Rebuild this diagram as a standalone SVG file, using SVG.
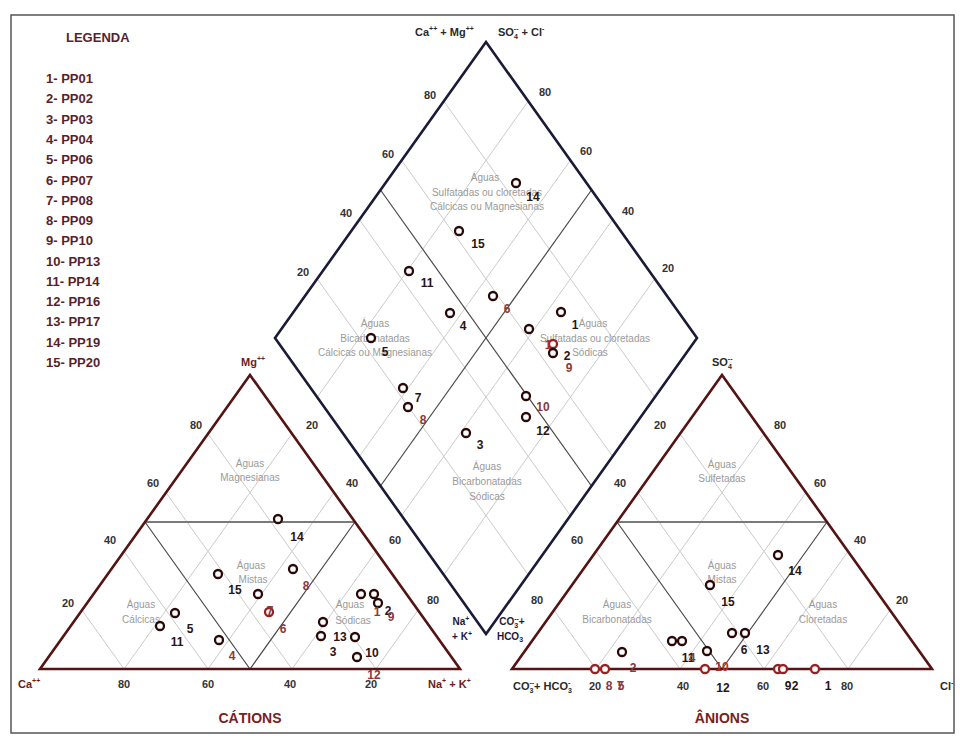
<svg xmlns="http://www.w3.org/2000/svg" width="960" height="738" viewBox="0 0 960 738">
<style>
text{font-family:"Liberation Sans",Arial,sans-serif}
.leg{font-size:13px;font-weight:bold;fill:#5a1f2a}
.ax{font-size:11px;font-weight:bold;fill:#2a2a2a}
.axm{font-size:11px;font-weight:bold;fill:#6a1c1c}
.sup{font-size:7px}
.ttl{font-size:14px;font-weight:bold;fill:#7a2020;text-anchor:middle}
.reg{font-size:10px;fill:#9a9a9a;text-anchor:middle}
.grid{stroke:#cbcbcb;stroke-width:1;fill:none}
.div{stroke:#4a4a4a;stroke-width:1.2;fill:none}
.mid{stroke:#7a7a7a;stroke-width:2;fill:none}
.tri{stroke:#541414;stroke-width:2.6;fill:none;stroke-linejoin:miter}
.dia{stroke:#1b1b38;stroke-width:2.6;fill:none}
.pt{fill:#fff;stroke:#2a0808;stroke-width:2.3}
.ptr{fill:#fff;stroke:#9a2020;stroke-width:2.3}
.lb{font-size:12px;font-weight:bold;fill:#2a1414;text-anchor:middle}
.lbm{font-size:12px;font-weight:bold;fill:#8a3a3a;text-anchor:middle}
.lbr{font-size:12px;font-weight:bold;fill:#b03030;text-anchor:middle}
.tk{font-size:11px;font-weight:bold;fill:#333;text-anchor:middle}
.sm{font-size:10px;font-weight:bold;fill:#1b1b38;text-anchor:middle}
</style>
<rect x="0" y="0" width="960" height="738" fill="#fff"/>
<rect id="frame" x="11" y="15" width="943" height="718" fill="none" stroke="#555" stroke-width="1.5"/>

<g id="legend">
<text class="leg" x="66" y="42">LEGENDA</text>
<text class="leg" x="46" y="83">1- PP01</text>
<text class="leg" x="46" y="103">2- PP02</text>
<text class="leg" x="46" y="124">3- PP03</text>
<text class="leg" x="46" y="144">4- PP04</text>
<text class="leg" x="46" y="164">5- PP06</text>
<text class="leg" x="46" y="185">6- PP07</text>
<text class="leg" x="46" y="205">7- PP08</text>
<text class="leg" x="46" y="225">8- PP09</text>
<text class="leg" x="46" y="245">9- PP10</text>
<text class="leg" x="46" y="266">10- PP13</text>
<text class="leg" x="46" y="286">11- PP14</text>
<text class="leg" x="46" y="306">12- PP16</text>
<text class="leg" x="46" y="326">13- PP17</text>
<text class="leg" x="46" y="347">14- PP19</text>
<text class="leg" x="46" y="367">15- PP20</text>
</g>

<g id="diamond">
<g class="grid">
<line x1="443.8" y1="101.2" x2="654.8" y2="397.2"/>
<line x1="401.6" y1="160.4" x2="612.6" y2="456.4"/>
<line x1="359.4" y1="219.6" x2="570.4" y2="515.6"/>
<line x1="317.2" y1="278.8" x2="528.2" y2="574.8"/>
<line x1="528.2" y1="101.2" x2="317.2" y2="397.2"/>
<line x1="570.4" y1="160.4" x2="359.4" y2="456.4"/>
<line x1="612.6" y1="219.6" x2="401.6" y2="515.6"/>
<line x1="654.8" y1="278.8" x2="443.8" y2="574.8"/>
</g>
<line class="div" x1="380.5" y1="190" x2="591.5" y2="486"/>
<line class="div" x1="591.5" y1="190" x2="380.5" y2="486"/>
<polygon class="dia" points="486,42 697,338 486,634 275,338"/>
<text class="reg" x="485" y="181">Águas</text>
<text class="reg" x="487" y="196">Sulfatadas ou cloretadas</text>
<text class="reg" x="487" y="210">Cálcicas ou Magnesianas</text>
<text class="reg" x="375" y="327">Águas</text>
<text class="reg" x="375" y="342">Bicarbonatadas</text>
<text class="reg" x="375" y="356">Cálcicas ou Magnesianas</text>
<text class="reg" x="593" y="327">Águas</text>
<text class="reg" x="595" y="342">Sulfatadas ou cloretadas</text>
<text class="reg" x="590" y="356">Sódicas</text>
<text class="reg" x="487" y="470">Águas</text>
<text class="reg" x="487" y="485">Bicarbonatadas</text>
<text class="reg" x="487" y="500">Sódicas</text>
<text class="tk" x="430" y="99">80</text>
<text class="tk" x="388" y="158">60</text>
<text class="tk" x="346" y="217">40</text>
<text class="tk" x="303" y="276">20</text>
<text class="tk" x="545" y="96">80</text>
<text class="tk" x="586" y="155">60</text>
<text class="tk" x="628" y="215">40</text>
<text class="tk" x="668" y="272">20</text>
<text class="ax" x="415" y="36">Ca<tspan class="sup" dy="-5">++</tspan><tspan dy="5"> + Mg</tspan><tspan class="sup" dy="-5">++</tspan></text>
<text class="ax" x="498" y="36">SO<tspan class="sup" dy="3">4</tspan><tspan class="sup" dx="-4" dy="-8">--</tspan><tspan dy="5"> + Cl</tspan><tspan class="sup" dy="-5">-</tspan></text>
<text class="sm" x="461" y="625">Na<tspan class="sup" dy="-4">+</tspan></text>
<text class="sm" x="462" y="640">+ K<tspan class="sup" dy="-4">+</tspan></text>
<text class="sm" x="512" y="625">CO<tspan class="sup" dy="3">3</tspan><tspan class="sup" dx="-4" dy="-7">--</tspan><tspan dy="4">+</tspan></text>
<text class="sm" x="510" y="640">HCO<tspan class="sup" dy="2">3</tspan></text>
</g>

<g id="cations">
<g class="grid">
<line x1="124" y1="669" x2="82" y2="610.2"/>
<line x1="208" y1="669" x2="124" y2="551.4"/>
<line x1="292" y1="669" x2="166" y2="492.6"/>
<line x1="376" y1="669" x2="208" y2="433.8"/>
<line x1="124" y1="669" x2="292" y2="433.8"/>
<line x1="208" y1="669" x2="334" y2="492.6"/>
<line x1="292" y1="669" x2="376" y2="551.4"/>
<line x1="376" y1="669" x2="418" y2="610.2"/>
</g>
<polyline class="div" points="145,522 250,669 355,522"/>
<line class="mid" x1="145" y1="522" x2="355" y2="522"/>
<polygon class="tri" points="40,669 460,669 250,375"/>
<text class="reg" x="250" y="467">Águas</text>
<text class="reg" x="250" y="481">Magnesianas</text>
<text class="reg" x="251" y="569">Águas</text>
<text class="reg" x="253" y="583">Mistas</text>
<text class="reg" x="141" y="608">Águas</text>
<text class="reg" x="141" y="623">Cálcicas</text>
<text class="reg" x="350" y="608">Águas</text>
<text class="reg" x="353" y="624">Sódicas</text>
<text class="tk" x="196" y="429">80</text>
<text class="tk" x="153" y="487">60</text>
<text class="tk" x="110" y="544">40</text>
<text class="tk" x="68" y="607">20</text>
<text class="tk" x="312" y="429">20</text>
<text class="tk" x="352" y="487">40</text>
<text class="tk" x="395" y="544">60</text>
<text class="tk" x="433" y="604">80</text>
<text class="tk" x="124" y="688">80</text>
<text class="tk" x="208" y="688">60</text>
<text class="tk" x="290" y="688">40</text>
<text class="tk" x="371" y="688">20</text>
<text class="axm" x="241" y="366">Mg<tspan class="sup" dy="-5">++</tspan></text>
<text class="axm" x="18" y="688">Ca<tspan class="sup" dy="-5">++</tspan></text>
<text class="axm" x="428" y="688">Na<tspan class="sup" dy="-5">+</tspan><tspan dy="5"> + K</tspan><tspan class="sup" dy="-5">+</tspan></text>
<text class="ttl" x="250" y="723">CÁTIONS</text>
</g>

<g id="anions">
<g class="grid">
<line x1="596" y1="669" x2="554" y2="610.2"/>
<line x1="680" y1="669" x2="596" y2="551.4"/>
<line x1="764" y1="669" x2="638" y2="492.6"/>
<line x1="848" y1="669" x2="680" y2="433.8"/>
<line x1="596" y1="669" x2="764" y2="433.8"/>
<line x1="680" y1="669" x2="806" y2="492.6"/>
<line x1="764" y1="669" x2="848" y2="551.4"/>
<line x1="848" y1="669" x2="890" y2="610.2"/>
</g>
<polyline class="div" points="617,522 722,669 827,522"/>
<line class="mid" x1="617" y1="522" x2="827" y2="522"/>
<polygon class="tri" points="512,669 932,669 722,375"/>
<text class="reg" x="722" y="468">Águas</text>
<text class="reg" x="722" y="482">Sulfetadas</text>
<text class="reg" x="722" y="569">Águas</text>
<text class="reg" x="722" y="583">Mistas</text>
<text class="reg" x="617" y="608">Águas</text>
<text class="reg" x="617" y="623">Bicarbonatadas</text>
<text class="reg" x="823" y="608">Águas</text>
<text class="reg" x="823" y="623">Cloretadas</text>
<text class="tk" x="660" y="429">20</text>
<text class="tk" x="620" y="487">40</text>
<text class="tk" x="577" y="544">60</text>
<text class="tk" x="537" y="604">80</text>
<text class="tk" x="780" y="429">80</text>
<text class="tk" x="820" y="487">60</text>
<text class="tk" x="860" y="544">40</text>
<text class="tk" x="902" y="604">20</text>
<text class="tk" x="595" y="690">20</text>
<text class="tk" x="683" y="690">40</text>
<text class="tk" x="763" y="690">60</text>
<text class="tk" x="847" y="690">80</text>
<text class="ax" x="712" y="366">SO<tspan class="sup" dy="3">4</tspan><tspan class="sup" dx="-4" dy="-8">--</tspan></text>
<text class="ax" x="513" y="690">CO<tspan class="sup" dy="3">3</tspan><tspan class="sup" dx="-4" dy="-8">--</tspan><tspan dy="5">+ HCO</tspan><tspan class="sup" dy="3">3</tspan><tspan class="sup" dx="-4" dy="-8">-</tspan></text>
<text class="ax" x="940" y="690">Cl<tspan class="sup" dy="-5">-</tspan></text>
<text class="ttl" x="722" y="723">ÂNIONS</text>
</g>

<g id="points-diamond">
<circle class="pt" cx="516" cy="183" r="4"/><text class="lb" x="533" y="201">14</text>
<circle class="pt" cx="459" cy="231" r="4"/><text class="lb" x="478" y="248">15</text>
<circle class="pt" cx="409" cy="271" r="4"/><text class="lb" x="427" y="287">11</text>
<circle class="pt" cx="493" cy="296" r="4"/><text class="lbm" x="507" y="313">6</text>
<circle class="pt" cx="450" cy="313" r="4"/><text class="lb" x="463" y="330">4</text>
<circle class="pt" cx="561" cy="312" r="4"/><text class="lb" x="575" y="329">1</text>
<circle class="pt" cx="529" cy="329" r="4"/>
<circle class="ptr" cx="553" cy="344" r="4"/><text class="lbr" x="548" y="349">1</text>
<circle class="pt" cx="553" cy="353" r="4"/><text class="lb" x="567" y="360">2</text><text class="lbm" x="569" y="372">9</text>
<circle class="pt" cx="371" cy="338" r="4"/><text class="lb" x="385" y="356">5</text>
<circle class="pt" cx="403" cy="388" r="4"/><text class="lb" x="418" y="402">7</text>
<circle class="pt" cx="408" cy="407" r="4"/><text class="lbm" x="423" y="424">8</text>
<circle class="pt" cx="526" cy="396" r="4"/><text class="lbm" x="543" y="411">10</text>
<circle class="pt" cx="526" cy="417" r="4"/><text class="lb" x="543" y="435">12</text>
<circle class="pt" cx="466" cy="433" r="4"/><text class="lb" x="480" y="449">3</text>
</g>

<g id="points-cations">
<circle class="pt" cx="278" cy="519" r="4"/><text class="lb" x="297" y="541">14</text>
<circle class="pt" cx="218" cy="574" r="4"/><text class="lb" x="235" y="594">15</text>
<circle class="pt" cx="293" cy="569" r="4"/><text class="lbm" x="306" y="590">8</text>
<circle class="pt" cx="258" cy="594" r="4"/>
<circle class="ptr" cx="269" cy="612" r="4"/><text class="lbm" x="270" y="615">7</text>
<text class="lbm" x="283" y="633">6</text>
<circle class="pt" cx="175" cy="613" r="4"/><text class="lb" x="190" y="633">5</text>
<circle class="pt" cx="160" cy="626" r="4"/><text class="lb" x="177" y="646">11</text>
<circle class="pt" cx="219" cy="640" r="4"/><text class="lbm" x="232" y="660">4</text>
<circle class="pt" cx="361" cy="594" r="4"/>
<circle class="pt" cx="374" cy="594" r="4"/>
<circle class="pt" cx="378" cy="603" r="4"/>
<text class="lbm" x="377" y="616">1</text><text class="lb" x="388" y="615">2</text><text class="lbm" x="391" y="621">9</text>
<circle class="pt" cx="323" cy="622" r="4"/>
<circle class="pt" cx="321" cy="636" r="4"/><text class="lb" x="340" y="641">13</text>
<circle class="pt" cx="355" cy="637" r="4"/>
<text class="lb" x="333" y="656">3</text>
<circle class="pt" cx="357" cy="657" r="4"/><text class="lb" x="372" y="657">10</text>
<text class="lbm" x="374" y="679">12</text>
</g>

<g id="points-anions">
<circle class="pt" cx="778" cy="555" r="4"/><text class="lb" x="795" y="575">14</text>
<circle class="pt" cx="710" cy="585" r="4"/><text class="lb" x="728" y="606">15</text>
<circle class="pt" cx="732" cy="633" r="4"/>
<circle class="pt" cx="745" cy="633" r="4"/>
<text class="lb" x="744" y="654">6</text><text class="lb" x="763" y="654">13</text>
<circle class="pt" cx="622" cy="652" r="4"/><text class="lbm" x="633" y="672">2</text>
<circle class="pt" cx="672" cy="641" r="4"/>
<circle class="pt" cx="682" cy="641" r="4"/>
<text class="lb" x="688" y="662">11</text><text class="lbm" x="692" y="662">4</text>
<circle class="pt" cx="707" cy="651" r="4"/>
<text class="lbr" x="722" y="671">10</text>
<circle class="ptr" cx="595" cy="669" r="4"/>
<circle class="ptr" cx="605" cy="669" r="4"/>
<circle class="ptr" cx="705" cy="669" r="4"/>
<circle class="ptr" cx="778" cy="669" r="4"/>
<circle class="ptr" cx="783" cy="669" r="4"/>
<circle class="ptr" cx="815" cy="669" r="4"/>
<text class="lbm" x="609" y="690">8</text>
<text class="lbm" x="620" y="690">7</text><text class="lbm" x="621" y="690">5</text>
<text class="lb" x="723" y="692">12</text>
<text class="lb" x="788" y="690">9</text><text class="lb" x="795" y="690">2</text>
<text class="lb" x="828" y="690">1</text>
</g>
</svg>
